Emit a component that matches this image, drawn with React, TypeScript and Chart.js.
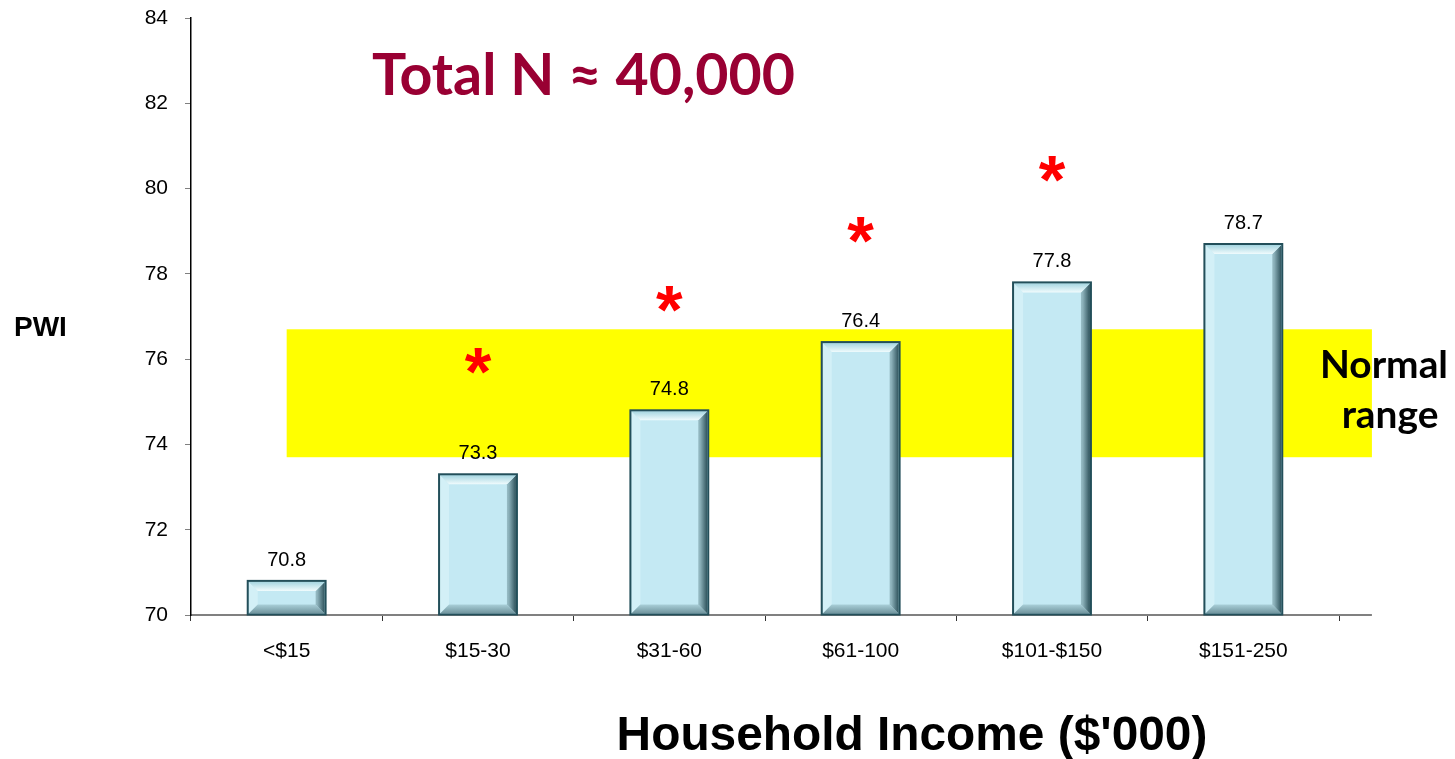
import React, { useEffect, useRef } from 'react';
import { Chart, registerables } from 'chart.js';

Chart.register(...registerables);

const categories = ['<$15', '$15-30', '$31-60', '$61-100', '$101-$150', '$151-250'];
const pwiValues = [70.8, 73.3, 74.8, 76.4, 77.8, 78.7];
const significanceMarkers: (number | null)[] = [null, 75.95, 77.4, 79.03, 80.46, null];
const normalRange = [73.7, 76.7];
const yMin = 70;
const yMax = 84;
const yStep = 2;
const titleText = 'Total N \u2248 40,000';
const yTitleText = 'PWI';
const xTitleText = "Household Income ($'000)";
const bandLabelLines = ['Normal', 'range'];

function fitSize(ctx: CanvasRenderingContext2D, text: string, weight: string, family: string, target: number) {
  ctx.font = `${weight} 100px ${family}`;
  const w = ctx.measureText(text).width;
  return (100 * target) / w;
}

const decorations = {
  id: 'decorations',
  beforeDatasetsDraw(chart: any) {
    const { ctx, chartArea, scales } = chart;
    const x = scales.x;
    const y = scales.y;
    const catW = (chartArea.right - chartArea.left) / categories.length;
    const left = x.getPixelForValue(0);
    const right = chartArea.right + catW * 0.172;
    const top = y.getPixelForValue(normalRange[1]);
    const bottom = y.getPixelForValue(normalRange[0]);
    ctx.save();
    ctx.fillStyle = '#FFFF00';
    ctx.fillRect(left, top, right - left, bottom - top);
    ctx.restore();
  },
  afterDatasetsDraw(chart: any) {
    const { ctx, scales } = chart;
    const meta = chart.getDatasetMeta(0);
    ctx.save();
    meta.data.forEach((el: any, i: number) => {
      const p = el.getProps(['x', 'y', 'base', 'width'], true);
      const l = p.x - p.width / 2 + 1;
      const r = p.x + p.width / 2 - 1;
      const t = p.y + 1;
      const b = p.base - 1;
      const bv = 9;
      // left face
      ctx.fillStyle = '#D3F0F7';
      ctx.beginPath();
      ctx.moveTo(l, t); ctx.lineTo(l + bv, t + bv); ctx.lineTo(l + bv, b - bv); ctx.lineTo(l, b);
      ctx.closePath(); ctx.fill();
      // bottom face
      let g = ctx.createLinearGradient(0, b - bv, 0, b);
      g.addColorStop(0, '#A9CFD8');
      g.addColorStop(1, '#6F939C');
      ctx.fillStyle = g;
      ctx.beginPath();
      ctx.moveTo(l, b); ctx.lineTo(r, b); ctx.lineTo(r - bv, b - bv); ctx.lineTo(l + bv, b - bv);
      ctx.closePath(); ctx.fill();
      // right face
      g = ctx.createLinearGradient(r - bv - 5, 0, r, 0);
      g.addColorStop(0, '#BCE2EA');
      g.addColorStop(0.5, '#8AAFB8');
      g.addColorStop(1, '#2F535C');
      ctx.fillStyle = g;
      ctx.beginPath();
      ctx.moveTo(r, t); ctx.lineTo(r, b); ctx.lineTo(r - bv, b - bv); ctx.lineTo(r - bv, t + bv);
      ctx.closePath(); ctx.fill();
      // top face
      g = ctx.createLinearGradient(0, t, 0, t + bv);
      g.addColorStop(0, '#A6D6E1');
      g.addColorStop(1, '#F0FBFD');
      ctx.fillStyle = g;
      ctx.beginPath();
      ctx.moveTo(l, t); ctx.lineTo(r, t); ctx.lineTo(r - bv, t + bv); ctx.lineTo(l + bv, t + bv);
      ctx.closePath(); ctx.fill();
      // border
      ctx.strokeStyle = '#234F5A';
      ctx.lineWidth = 2;
      ctx.strokeRect(p.x - p.width / 2, p.y, p.width, p.base - p.y);

      // value label
      ctx.fillStyle = '#000';
      ctx.font = '20px "Liberation Sans", Arial, sans-serif';
      ctx.textAlign = 'center';
      ctx.textBaseline = 'alphabetic';
      ctx.fillText(String(pwiValues[i]), p.x, p.y - 15);
    });

    // significance asterisks
    const size = (() => {
      ctx.font = 'bold 100px "Liberation Sans", Arial, sans-serif';
      const m = ctx.measureText('*');
      return (100 * 26) / (m.actualBoundingBoxAscent + m.actualBoundingBoxDescent);
    })();
    ctx.font = `bold ${size}px "Liberation Sans", Arial, sans-serif`;
    ctx.fillStyle = '#FF0000';
    ctx.textAlign = 'center';
    ctx.textBaseline = 'alphabetic';
    const m = ctx.measureText('*');
    const mid = (m.actualBoundingBoxAscent - m.actualBoundingBoxDescent) / 2;
    significanceMarkers.forEach((v, i) => {
      if (v == null) return;
      const px = scales.x.getPixelForValue(i);
      const py = scales.y.getPixelForValue(v);
      ctx.fillText('*', px, py + mid);
    });
    ctx.restore();
  },
  afterDraw(chart: any) {
    const { ctx, chartArea } = chart;
    const catW = (chartArea.right - chartArea.left) / categories.length;
    ctx.save();
    // extended x-axis line
    ctx.strokeStyle = '#808080';
    ctx.lineWidth = 2;
    ctx.beginPath();
    ctx.moveTo(chartArea.right, chartArea.bottom);
    ctx.lineTo(chartArea.right + catW * 0.172, chartArea.bottom);
    ctx.stroke();

    // title
    const tFam = 'Lato, "Open Sans", sans-serif';
    const tSize = fitSize(ctx, titleText, 'bold', tFam, 423);
    ctx.font = `bold ${tSize}px ${tFam}`;
    ctx.fillStyle = '#990033';
    ctx.textAlign = 'left';
    ctx.textBaseline = 'alphabetic';
    ctx.fillText(titleText, 372, 95);

    // band label
    const nSize = fitSize(ctx, bandLabelLines[0], 'bold', tFam, 128);
    ctx.font = `bold ${nSize}px ${tFam}`;
    ctx.fillStyle = '#000';
    ctx.textAlign = 'center';
    ctx.fillText(bandLabelLines[0], 1384, 378);
    ctx.fillText(bandLabelLines[1], 1390, 428);

    // y title
    ctx.font = 'bold 28px "Liberation Sans", Arial, sans-serif';
    ctx.textAlign = 'left';
    ctx.fillText(yTitleText, 14, 336);

    // x title
    const xSize = fitSize(ctx, xTitleText, 'bold', '"Liberation Sans", Arial, sans-serif', 591);
    ctx.font = `bold ${xSize}px "Liberation Sans", Arial, sans-serif`;
    ctx.textAlign = 'center';
    ctx.fillText(xTitleText, 912, 750);
    ctx.restore();
  },
};

export default function App() {
  const ref = useRef<HTMLCanvasElement | null>(null);
  useEffect(() => {
    if (!ref.current) return;
    const chart = new Chart(ref.current, {
      type: 'bar',
      data: {
        labels: categories,
        datasets: [
          {
            data: pwiValues,
            base: yMin,
            backgroundColor: '#C4E9F3',
            borderColor: '#234F5A',
            borderWidth: 0,
            barPercentage: 0.407,
            categoryPercentage: 1,
          },
        ],
      },
      options: {
        animation: false,
        responsive: false,
        layout: { padding: { top: 18, right: 116, left: 0, bottom: 0 } },
        plugins: { legend: { display: false }, tooltip: { enabled: false } },
        scales: {
          x: {
            offset: true,
            grid: {
              display: true,
              drawOnChartArea: false,
              drawTicks: true,
              tickLength: 6,
              color: '#333',
              offset: true,
            },
            border: { display: true, color: '#808080', width: 2 },
            ticks: {
              color: '#000',
              padding: 18,
              font: { family: '"Liberation Sans", Arial, sans-serif', size: 21 },
            },
            afterFit: (s: any) => {
              s.height = 144;
              s.paddingLeft = 0;
              s.paddingRight = 0;
            },
          },
          y: {
            min: yMin,
            max: yMax,
            grid: {
              display: true,
              drawOnChartArea: false,
              drawTicks: true,
              tickLength: 6,
              color: '#808080',
            },
            border: { display: true, color: '#000', width: 1.5 },
            ticks: {
              stepSize: yStep,
              color: '#000',
              padding: 17,
              font: { family: '"Liberation Sans", Arial, sans-serif', size: 21 },
            },
            afterFit: (s: any) => {
              s.width = 191;
              s.paddingTop = 0;
              s.paddingBottom = 0;
            },
          },
        },
      },
      plugins: [decorations],
    });
    return () => chart.destroy();
  }, []);
  return (
    <div style={{ position: 'fixed', left: 0, top: 0, width: 1455, height: 759, background: '#fff' }}>
      <canvas ref={ref} width={1455} height={759} />
    </div>
  );
}
